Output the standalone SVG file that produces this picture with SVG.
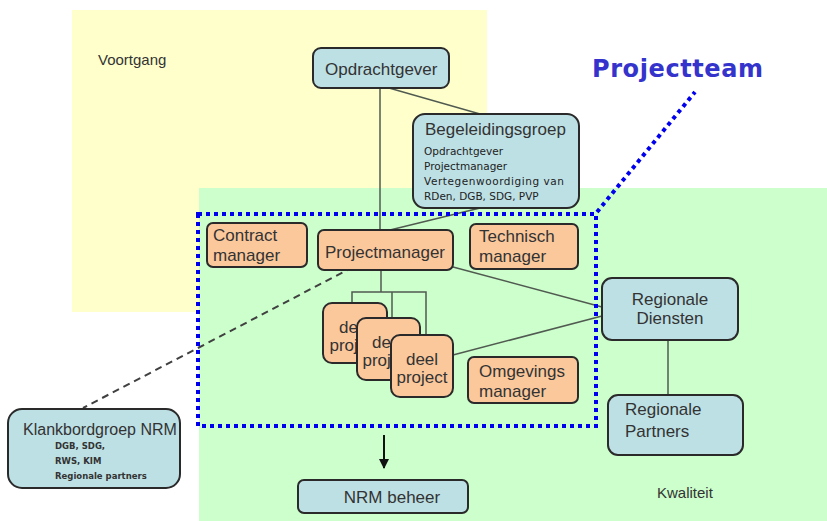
<svg xmlns="http://www.w3.org/2000/svg" width="827" height="521" viewBox="0 0 827 521">
<defs>
<style>
.t{font-family:"Liberation Sans",Arial,sans-serif;font-size:17px;fill:#333}
.s{font-family:"DejaVu Sans",Verdana,sans-serif;font-size:10.5px;fill:#222}
.k{font-family:"DejaVu Sans",Verdana,sans-serif;font-size:8.5px;font-weight:bold;fill:#333}
.b{fill:#bde0e5;stroke:#2a2a2a;stroke-width:2}
.o{fill:#fbc89c;stroke:#2a2a2a;stroke-width:2}
.c{fill:none;stroke:#505a50;stroke-width:1.5}
.dot{fill:none;stroke:#0000ee;stroke-width:4;stroke-dasharray:4 4}
</style>
<marker id="ah" viewBox="0 0 10 10" refX="9" refY="5" markerWidth="10" markerHeight="10" markerUnits="userSpaceOnUse" orient="auto">
<path d="M0,0 L10,5 L0,10 z" fill="#111"/>
</marker>
</defs>
<rect x="0" y="0" width="827" height="521" fill="#fff"/>
<rect x="72" y="10" width="415" height="302" fill="#ffffcc"/>
<rect x="199" y="188" width="628" height="333" fill="#ccffcc"/>
<text x="98" y="65" class="t" style="font-size:15px">Voortgang</text>
<text x="657" y="498" class="t" style="font-size:15px">Kwaliteit</text>
<text x="592" y="77" style="font-family:'DejaVu Sans',Verdana,sans-serif;font-size:24px;font-weight:bold;fill:#3434cc" textLength="171">Projectteam</text>

<g id="connectors">
<line class="c" x1="380" y1="88" x2="380" y2="230"/>
<line class="c" x1="389" y1="88" x2="480" y2="114"/>
<line class="c" x1="480" y1="208" x2="390" y2="230"/>
<line class="c" x1="453" y1="267" x2="602" y2="307"/>
<line class="c" x1="453" y1="355" x2="602" y2="316"/>
<line class="c" x1="668" y1="340" x2="668" y2="395"/>
<polyline class="c" points="381,270 381,292"/>
<polyline class="c" points="352,303 352,292 426,292 426,335"/>
<line class="c" x1="392" y1="292" x2="392" y2="318"/>
<line x1="353" y1="267" x2="83" y2="408" stroke="#404040" stroke-width="2" stroke-dasharray="7 5"/>
<line x1="384" y1="435" x2="384" y2="468" stroke="#111" stroke-width="2" marker-end="url(#ah)"/>
</g>

<g id="projectteam-border">
<rect class="dot" x="198" y="214" width="398" height="212"/>
<line class="dot" x1="597" y1="212" x2="695" y2="92"/>
</g>

<g id="opdrachtgever">
<rect class="b" x="313" y="48" width="136" height="40" rx="8"/>
<text class="t" x="325" y="75">Opdrachtgever</text>
</g>
<g id="begeleidingsgroep">
<rect class="b" x="413" y="114" width="166" height="94" rx="12"/>
<text class="t" x="425" y="135">Begeleidingsgroep</text>
<text class="s" x="424" y="155">Opdrachtgever</text>
<text class="s" x="424" y="170">Projectmanager</text>
<text class="s" x="424" y="185" textLength="140">Vertegenwoordiging van</text>
<text class="s" x="424" y="200">RDen, DGB, SDG, PVP</text>
</g>
<g id="contractmanager">
<rect class="o" x="207" y="223" width="100" height="44" rx="6"/>
<text class="t" x="213" y="241">Contract</text>
<text class="t" x="213" y="261">manager</text>
</g>
<g id="projectmanager">
<rect class="o" x="318" y="230" width="135" height="40" rx="6"/>
<text class="t" x="325" y="258">Projectmanager</text>
</g>
<g id="technischmanager">
<rect class="o" x="470" y="224" width="108" height="45" rx="6"/>
<text class="t" x="479" y="242">Technisch</text>
<text class="t" x="479" y="262">manager</text>
</g>
<g id="deelproject1">
<rect class="o" x="323" y="303" width="64" height="60" rx="9"/>
<text class="t" x="355" y="333" text-anchor="middle">deel</text>
<text class="t" x="355" y="351" text-anchor="middle">project</text>
</g>
<g id="deelproject2">
<rect class="o" x="357" y="318" width="63" height="62" rx="9"/>
<text class="t" x="388" y="348" text-anchor="middle">deel</text>
<text class="t" x="388" y="366" text-anchor="middle">project</text>
</g>
<g id="deelproject3">
<rect class="o" x="391" y="335" width="62" height="62" rx="9"/>
<text class="t" x="422" y="365" text-anchor="middle">deel</text>
<text class="t" x="422" y="383" text-anchor="middle">project</text>
</g>
<g id="omgevingsmanager">
<rect class="o" x="468" y="357" width="110" height="46" rx="6"/>
<text class="t" x="479" y="377">Omgevings</text>
<text class="t" x="479" y="397">manager</text>
</g>
<g id="regionalediensten">
<rect class="b" x="602" y="278" width="136" height="62" rx="10"/>
<text class="t" x="670" y="305" text-anchor="middle">Regionale</text>
<text class="t" x="670" y="324" text-anchor="middle">Diensten</text>
</g>
<g id="regionalepartners">
<rect class="b" x="608" y="395" width="135" height="60" rx="10"/>
<text class="t" x="625" y="415">Regionale</text>
<text class="t" x="625" y="437">Partners</text>
</g>
<g id="klankbordgroep">
<rect class="b" x="8" y="409" width="172" height="79" rx="14"/>
<text class="t" x="23" y="435" style="font-size:16px">Klankbordgroep NRM</text>
<text class="k" x="55" y="449">DGB, SDG,</text>
<text class="k" x="55" y="464">RWS, KIM</text>
<text class="k" x="55" y="479">Regionale partners</text>
</g>
<g id="nrmbeheer">
<rect class="b" x="298" y="480" width="170" height="33" rx="6"/>
<text class="t" x="392" y="503" text-anchor="middle">NRM beheer</text>
</g>
</svg>
